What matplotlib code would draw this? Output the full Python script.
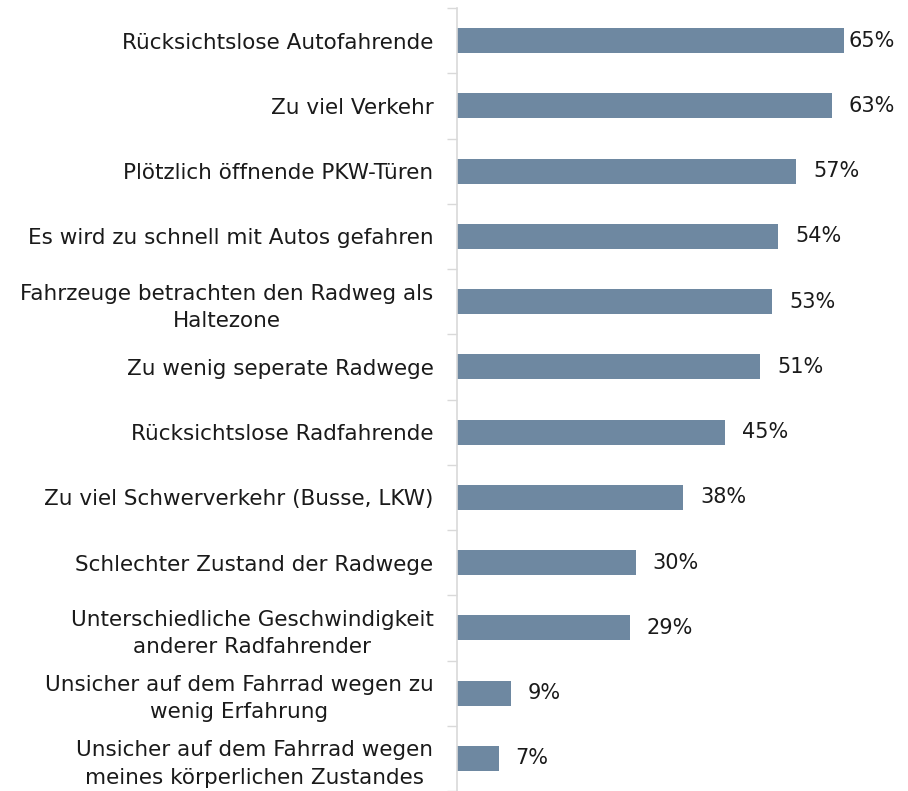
import matplotlib
matplotlib.use("Agg")
from matplotlib import pyplot as plt
import numpy as np

# Gründe für Unsicherheit beim Radfahren (Anteil in %)
categories = [
    "Rücksichtslose Autofahrende",
    "Zu viel Verkehr",
    "Plötzlich öffnende PKW-Türen",
    "Es wird zu schnell mit Autos gefahren",
    "Fahrzeuge betrachten den Radweg als\nHaltezone",
    "Zu wenig seperate Radwege",
    "Rücksichtslose Radfahrende",
    "Zu viel Schwerverkehr (Busse, LKW)",
    "Schlechter Zustand der Radwege",
    "Unterschiedliche Geschwindigkeit\nanderer Radfahrender",
    "Unsicher auf dem Fahrrad wegen zu\nwenig Erfahrung",
    "Unsicher auf dem Fahrrad wegen\nmeines körperlichen Zustandes",
]
values = [65, 63, 57, 54, 53, 51, 45, 38, 30, 29, 9, 7]

BAR_COLOR = "#6E88A1"
AXIS_COLOR = "#D9D9D9"
TEXT_COLOR = "#1A1A1A"

plt.rcParams["font.family"] = ["DejaVu Sans"]

fig = plt.figure(figsize=(9.08, 7.91), dpi=100)
ax = fig.add_axes([457 / 908, 0.0, 451 / 908, 1 - 8 / 791])

y = np.arange(len(categories))
ax.barh(y, values, height=0.38, color=BAR_COLOR, zorder=2)

ax.set_xlim(0, 451 / 5.95)
ax.set_ylim(len(categories) - 0.5, -0.5)

# Beschriftung der Werte rechts neben den Balken
for yi, v in zip(y, values):
    x = min(v + 2.85, 65.8)
    ax.text(x, yi, f"{v}%", va="center", ha="left", fontsize=15, color=TEXT_COLOR)

ax.set_yticks(y)
ax.set_yticklabels(categories, fontsize=15.5, color=TEXT_COLOR, multialignment="center",
                   linespacing=1.45)
ax.tick_params(axis="y", which="major", length=0, pad=17)
ax.set_yticks(np.arange(-0.5, len(categories), 1.0), minor=True)
ax.tick_params(axis="y", which="minor", length=7, width=1, color=AXIS_COLOR)

ax.set_xticks([])
for side in ("top", "right", "bottom"):
    ax.spines[side].set_visible(False)
ax.spines["left"].set_color(AXIS_COLOR)
ax.spines["left"].set_linewidth(1.2)

fig.savefig("out.png", dpi=100)
